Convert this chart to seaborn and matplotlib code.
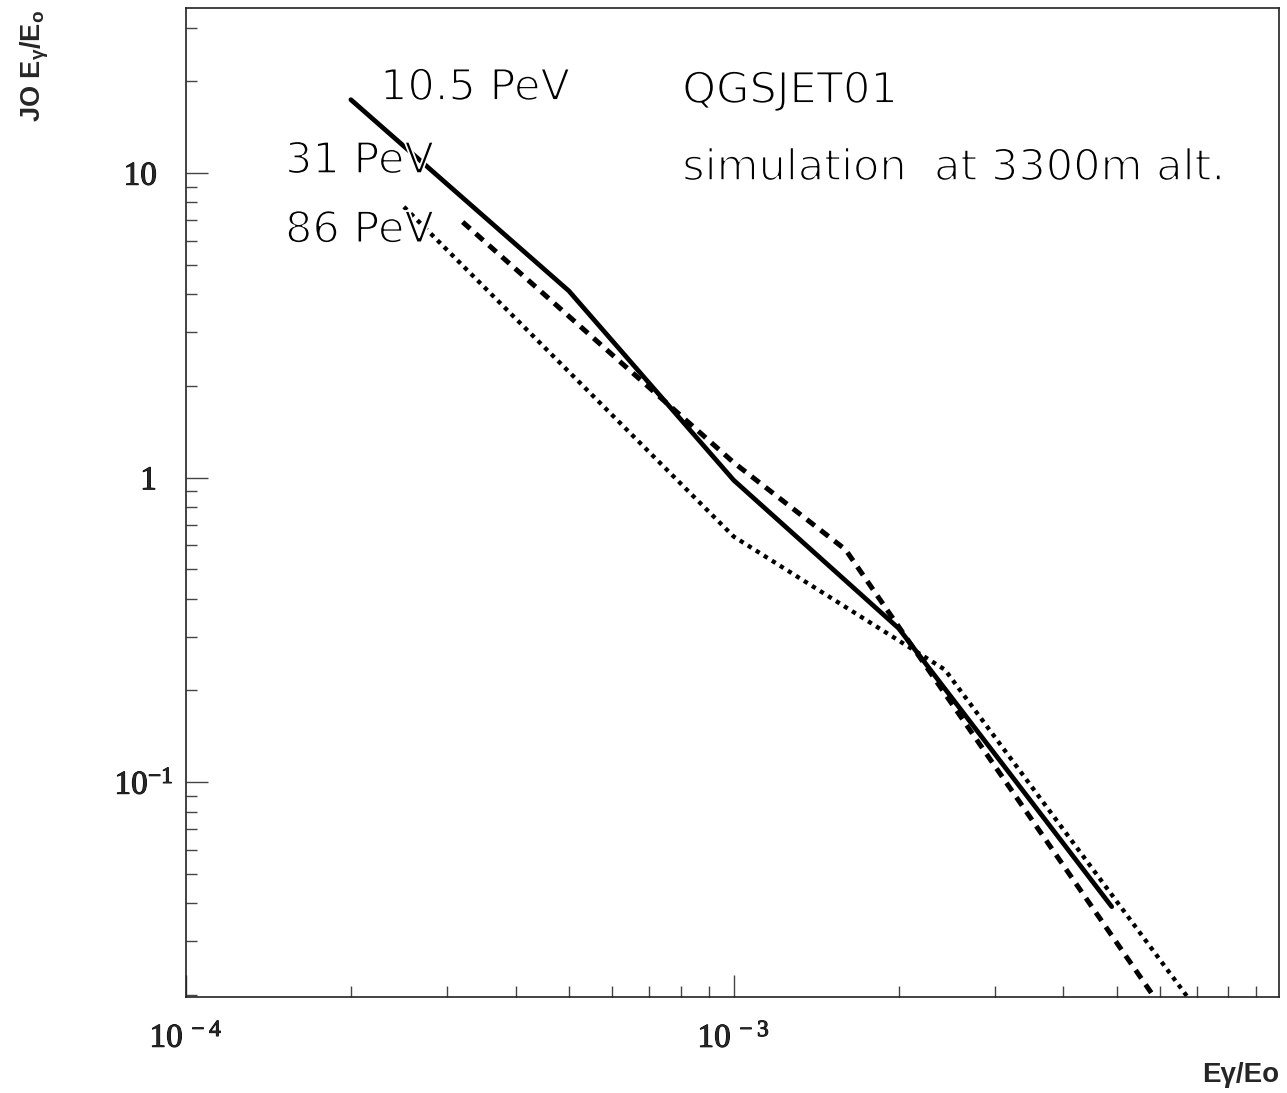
import matplotlib
matplotlib.use("Agg")
import matplotlib.pyplot as plt
import matplotlib.ticker as mticker
import matplotlib.patheffects as pe
import seaborn as sns
import pandas as pd

# ---- data ----
x_10p5 = [2.0e-4, 5.0e-4, 1.0e-3, 2.0e-3, 4.9e-3]
y_10p5 = [17.4, 4.1, 0.98, 0.32, 0.039]

x_31 = [3.2e-4, 1.0e-3, 1.6e-3, 6.0e-3]
y_31 = [6.9, 1.12, 0.58, 0.0185]

x_86 = [2.5e-4, 1.0e-3, 2.43e-3, 7.5e-3]
y_86 = [7.74, 0.64, 0.234, 0.0152]

labels_energy = ["10.5 PeV", "31 PeV", "86 PeV"]
x_ticks = [1e-4, 1e-3]
x_tick_labels = [r"$\mathregular{10^{\,-4}}$", r"$\mathregular{10^{\,-3}}$"]
y_ticks = [0.1, 1, 10]
y_tick_labels = [r"$\mathregular{10^{-1}}$", "1", "10"]

sns.set_style("ticks")
plt.rcParams["font.family"] = ["Liberation Serif", "DejaVu Sans"]
plt.rcParams["mathtext.fontset"] = "custom"
plt.rcParams["mathtext.rm"] = "Liberation Serif"

fig = plt.figure(figsize=(12.87, 10.93), dpi=100)
ax = fig.add_axes([186 / 1287, 96 / 1093, (1279 - 186) / 1287, (997 - 8) / 1093])

df1 = pd.DataFrame({"x": x_10p5, "y": y_10p5})
df2 = pd.DataFrame({"x": x_31, "y": y_31})
df3 = pd.DataFrame({"x": x_86, "y": y_86})

sns.lineplot(data=df1, x="x", y="y", ax=ax, color="black", lw=3.4,
             sort=False, estimator=None, solid_joinstyle="miter")
sns.lineplot(data=df2, x="x", y="y", ax=ax, color="black", lw=3.6,
             linestyle=(0, (2.0, 1.5)), sort=False, estimator=None)
sns.lineplot(data=df3, x="x", y="y", ax=ax, color="black", lw=3.1,
             linestyle=(0, (1.0, 1.2)), sort=False, estimator=None)

ax.set_xscale("log")
ax.set_yscale("log")
ax.set_xlim(1e-4, 0.0099)
ax.set_ylim(0.0197, 34.8)

ax.set_xticks(x_ticks, labels=x_tick_labels)
ax.set_yticks(y_ticks, labels=y_tick_labels)
ax.xaxis.set_minor_locator(mticker.LogLocator(base=10, subs=range(2, 10), numticks=20))
ax.yaxis.set_minor_locator(mticker.LogLocator(base=10, subs=range(2, 10), numticks=20))
ax.xaxis.set_minor_formatter(mticker.NullFormatter())
ax.yaxis.set_minor_formatter(mticker.NullFormatter())

ax.tick_params(which="both", direction="in", top=False, right=False,
               color="#444444", width=1.0)
ax.tick_params(which="major", length=16)
ax.tick_params(which="minor", length=8)
ax.tick_params(axis="x", which="major", pad=19, labelsize=24)
ax.tick_params(axis="y", which="major", pad=21, labelsize=24)
# the 10^-1 label sits closer to the axis in the reference
ax.yaxis.get_major_ticks()[0].set_pad(9)

bold_fx = [pe.withStroke(linewidth=0.7, foreground="black")]
for lbl in ax.get_xticklabels() + ax.get_yticklabels():
    lbl.set_path_effects(bold_fx)

for s in ax.spines.values():
    s.set_visible(True)
    s.set_linewidth(1.2)
    s.set_color("#222222")

ax.set_xlabel("Eγ/Eo", fontsize=20, fontweight="bold",
              family=["Liberation Sans", "DejaVu Sans"], ha="right", va="top")
ax.xaxis.set_label_coords(1.0, -0.066)
ax.set_ylabel(r"JO E$\mathregular{_{γ}}$/E$\mathregular{_{o}}$", fontsize=19.5,
              fontweight="bold",
              family=["Liberation Sans", "DejaVu Sans"],
              ha="right", va="top")
ax.yaxis.set_label_coords(-0.153, 0.998)

thin = [pe.Normal(), pe.Stroke(linewidth=1.3, foreground="white")]
txt_kw = dict(transform=ax.transAxes, fontsize=31,
              family=["DejaVu Sans"], color="black", va="baseline", ha="left",
              path_effects=thin)
ax.text(0.1775, 0.907, labels_energy[0], **txt_kw)
ax.text(0.0906, 0.833, labels_energy[1], **txt_kw)
ax.text(0.0906, 0.763, labels_energy[2], **txt_kw)
ax.text(0.454, 0.904, "QGSJET01", **txt_kw)
ax.text(0.454, 0.826, "simulation  at 3300m alt.", **txt_kw)

fig.savefig("out.png", dpi=100, facecolor="white")
